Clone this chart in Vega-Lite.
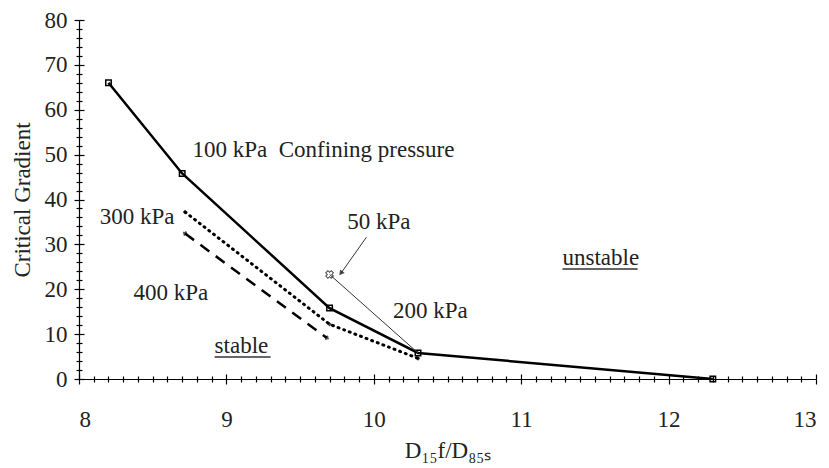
{
  "$schema": "https://vega.github.io/schema/vega-lite/v6.json",
  "autosize": "none",
  "width": 737,
  "height": 359,
  "padding": {"left": 79, "top": 20, "right": 13, "bottom": 89},
  "background": "white",
  "config": {
    "view": {"stroke": null},
    "font": "Liberation Serif",
    "style": {"guide-label": {"font": "Liberation Serif"}, "guide-title": {"font": "Liberation Serif"}},
    "axis": {"grid": false, "domainColor": "black", "tickColor": "black", "labelColor": "#222", "titleColor": "#222", "labelFont": "Liberation Serif", "titleFont": "Liberation Serif", "labelFontSize": 23, "titleFontSize": 23, "titleFontWeight": "normal", "domainWidth": 1.2, "tickWidth": 1.2}
  },
  "datasets": {
    "curves": [
      {"s": "A", "x": 8.2, "y": 66},
      {"s": "A", "x": 8.7, "y": 45.8},
      {"s": "A", "x": 9.7, "y": 15.8},
      {"s": "A", "x": 10.3, "y": 5.8},
      {"s": "A", "x": 12.3, "y": 0},
      {"s": "B", "x": 8.72, "y": 37.2},
      {"s": "B", "x": 9.7, "y": 12.2},
      {"s": "B", "x": 10.3, "y": 4.6},
      {"s": "C", "x": 8.72, "y": 32.4},
      {"s": "C", "x": 9.68, "y": 9.2},
      {"s": "D", "x": 9.7, "y": 23.3},
      {"s": "D", "x": 10.3, "y": 5.8}
    ],
    "labels": [
      {"label": "100 kPa\u00a0 Confining pressure", "x": 8.77, "y": 51},
      {"label": "300 kPa", "x": 8.14, "y": 36.1},
      {"label": "400 kPa", "x": 8.37, "y": 19.2},
      {"label": "50 kPa", "x": 9.82, "y": 35.0},
      {"label": "200 kPa", "x": 10.13, "y": 15.1},
      {"label": "unstable", "x": 11.28, "y": 26.9},
      {"label": "stable", "x": 8.92, "y": 7.3}
    ],
    "underlines": [
      {"x": 11.28, "x2": 11.79, "y": 24.5},
      {"x": 8.92, "x2": 9.3, "y": 4.9}
    ],
    "arrow": [
      {"x": 9.95, "y": 31.6, "x2": 9.78, "y2": 23.7}
    ]
  },
  "resolve": {"axis": {"x": "independent", "y": "independent"}},
  "layer": [
    {
      "data": {"name": "curves"},
      "transform": [{"filter": "datum.s === 'A'"}],
      "mark": {"type": "line", "color": "black", "strokeWidth": 2.5, "point": {"shape": "square", "filled": false, "size": 30, "color": "black", "strokeWidth": 1.5}},
      "encoding": {
        "x": {"field": "x", "type": "quantitative", "scale": {"domain": [8, 13], "nice": false, "zero": false},
          "axis": {"orient": "bottom", "values": [8, 9, 10, 11, 12, 13], "tickSize": 5, "labelPadding": 24, "labelFont": "Liberation Serif", "titleFont": "Liberation Serif", "title": "D₁₅f/D₈₅ₛ", "titlePadding": 8}},
        "y": {"field": "y", "type": "quantitative", "scale": {"domain": [0, 80], "nice": false},
          "axis": {"orient": "left", "values": [0, 10, 20, 30, 40, 50, 60, 70, 80], "tickSize": 5, "labelPadding": 7, "labelFont": "Liberation Serif", "titleFont": "Liberation Serif", "title": "Critical Gradient", "titlePadding": 10}}
      }
    },
    {
      "data": {"name": "curves"},
      "transform": [{"filter": "datum.s === 'B'"}],
      "mark": {"type": "line", "color": "black", "strokeWidth": 3, "strokeDash": [1, 5], "strokeCap": "round"},
      "encoding": {
        "x": {"field": "x", "type": "quantitative", "scale": {"domain": [8, 13], "nice": false, "zero": false},
          "axis": {"orient": "bottom", "values": [8, 9, 10, 11, 12, 13], "tickSize": 5, "offset": -5, "labels": false, "domain": false, "title": null}},
        "y": {"field": "y", "type": "quantitative", "scale": {"domain": [0, 80], "nice": false},
          "axis": {"orient": "left", "values": [0, 10, 20, 30, 40, 50, 60, 70, 80], "tickSize": 5, "offset": -5, "labels": false, "domain": false, "title": null}}
      }
    },
    {
      "data": {"name": "curves"},
      "transform": [{"filter": "datum.s === 'C'"}],
      "mark": {"type": "line", "color": "black", "strokeWidth": 2.5, "strokeDash": [11, 8]},
      "encoding": {
        "x": {"field": "x", "type": "quantitative", "scale": {"domain": [8, 13], "nice": false, "zero": false},
          "axis": {"orient": "bottom", "values": [8.1, 8.2, 8.3, 8.4, 8.5, 8.6, 8.7, 8.8, 8.9, 9.1, 9.2, 9.3, 9.4, 9.5, 9.6, 9.7, 9.8, 9.9, 10.1, 10.2, 10.3, 10.4, 10.5, 10.6, 10.7, 10.8, 10.9, 11.1, 11.2, 11.3, 11.4, 11.5, 11.6, 11.7, 11.8, 11.9, 12.1, 12.2, 12.3, 12.4, 12.5, 12.6, 12.7, 12.8, 12.9], "tickSize": 3, "labels": false, "domain": false, "title": null}},
        "y": {"field": "y", "type": "quantitative", "scale": {"domain": [0, 80], "nice": false},
          "axis": {"orient": "left", "values": [2, 4, 6, 8, 12, 14, 16, 18, 22, 24, 26, 28, 32, 34, 36, 38, 42, 44, 46, 48, 52, 54, 56, 58, 62, 64, 66, 68, 72, 74, 76, 78], "tickSize": 3, "labels": false, "domain": false, "title": null}}
      }
    },
    {
      "data": {"name": "curves"},
      "transform": [{"filter": "datum.s === 'D'"}],
      "mark": {"type": "line", "color": "#333", "strokeWidth": 1},
      "encoding": {
        "x": {"field": "x", "type": "quantitative", "scale": {"domain": [8, 13], "nice": false, "zero": false},
          "axis": {"orient": "bottom", "values": [8.1, 8.2, 8.3, 8.4, 8.5, 8.6, 8.7, 8.8, 8.9, 9.1, 9.2, 9.3, 9.4, 9.5, 9.6, 9.7, 9.8, 9.9, 10.1, 10.2, 10.3, 10.4, 10.5, 10.6, 10.7, 10.8, 10.9, 11.1, 11.2, 11.3, 11.4, 11.5, 11.6, 11.7, 11.8, 11.9, 12.1, 12.2, 12.3, 12.4, 12.5, 12.6, 12.7, 12.8, 12.9], "tickSize": 3, "offset": -3, "labels": false, "domain": false, "title": null}},
        "y": {"field": "y", "type": "quantitative", "scale": {"domain": [0, 80], "nice": false},
          "axis": {"orient": "left", "values": [2, 4, 6, 8, 12, 14, 16, 18, 22, 24, 26, 28, 32, 34, 36, 38, 42, 44, 46, 48, 52, 54, 56, 58, 62, 64, 66, 68, 72, 74, 76, 78], "tickSize": 3, "offset": -3, "labels": false, "domain": false, "title": null}}
      }
    },
    {
      "data": {"name": "curves"},
      "transform": [{"filter": "datum.s === 'B'"}],
      "mark": {"type": "point", "shape": "diamond", "filled": true, "size": 22, "color": "black"},
      "encoding": {
        "x": {"field": "x", "type": "quantitative", "scale": {"domain": [8, 13]}, "axis": null},
        "y": {"field": "y", "type": "quantitative", "scale": {"domain": [0, 80]}, "axis": null}
      }
    },
    {
      "data": {"name": "curves"},
      "transform": [{"filter": "datum.s === 'C'"}],
      "mark": {"type": "point", "shape": "cross", "filled": true, "size": 22, "color": "black", "angle": 30},
      "encoding": {
        "x": {"field": "x", "type": "quantitative", "scale": {"domain": [8, 13]}, "axis": null},
        "y": {"field": "y", "type": "quantitative", "scale": {"domain": [0, 80]}, "axis": null}
      }
    },
    {
      "data": {"name": "curves"},
      "transform": [{"filter": "datum.s === 'D' && datum.y > 20"}],
      "mark": {"type": "point", "shape": "cross", "filled": false, "size": 60, "color": "black", "strokeWidth": 1, "angle": 45},
      "encoding": {
        "x": {"field": "x", "type": "quantitative", "scale": {"domain": [8, 13]}, "axis": null},
        "y": {"field": "y", "type": "quantitative", "scale": {"domain": [0, 80]}, "axis": null}
      }
    },
    {
      "data": {"name": "arrow"},
      "mark": {"type": "rule", "color": "#333", "strokeWidth": 1},
      "encoding": {
        "x": {"field": "x", "type": "quantitative", "scale": {"domain": [8, 13]}, "axis": null},
        "y": {"field": "y", "type": "quantitative", "scale": {"domain": [0, 80]}, "axis": null},
        "x2": {"field": "x2"},
        "y2": {"field": "y2"}
      }
    },
    {
      "data": {"name": "arrow"},
      "mark": {"type": "point", "shape": "triangle", "filled": true, "size": 35, "color": "black", "angle": 218},
      "encoding": {
        "x": {"field": "x2", "type": "quantitative", "scale": {"domain": [8, 13]}, "axis": null},
        "y": {"field": "y2", "type": "quantitative", "scale": {"domain": [0, 80]}, "axis": null}
      }
    },
    {
      "data": {"name": "labels"},
      "mark": {"type": "text", "align": "left", "baseline": "middle", "font": "Liberation Serif", "fontSize": 23, "color": "#222"},
      "encoding": {
        "x": {"field": "x", "type": "quantitative", "scale": {"domain": [8, 13]}, "axis": null},
        "y": {"field": "y", "type": "quantitative", "scale": {"domain": [0, 80]}, "axis": null},
        "text": {"field": "label"}
      }
    },
    {
      "data": {"name": "underlines"},
      "mark": {"type": "rule", "color": "#333", "strokeWidth": 1.5},
      "encoding": {
        "x": {"field": "x", "type": "quantitative", "scale": {"domain": [8, 13]}, "axis": null},
        "x2": {"field": "x2"},
        "y": {"field": "y", "type": "quantitative", "scale": {"domain": [0, 80]}, "axis": null}
      }
    }
  ]
}
